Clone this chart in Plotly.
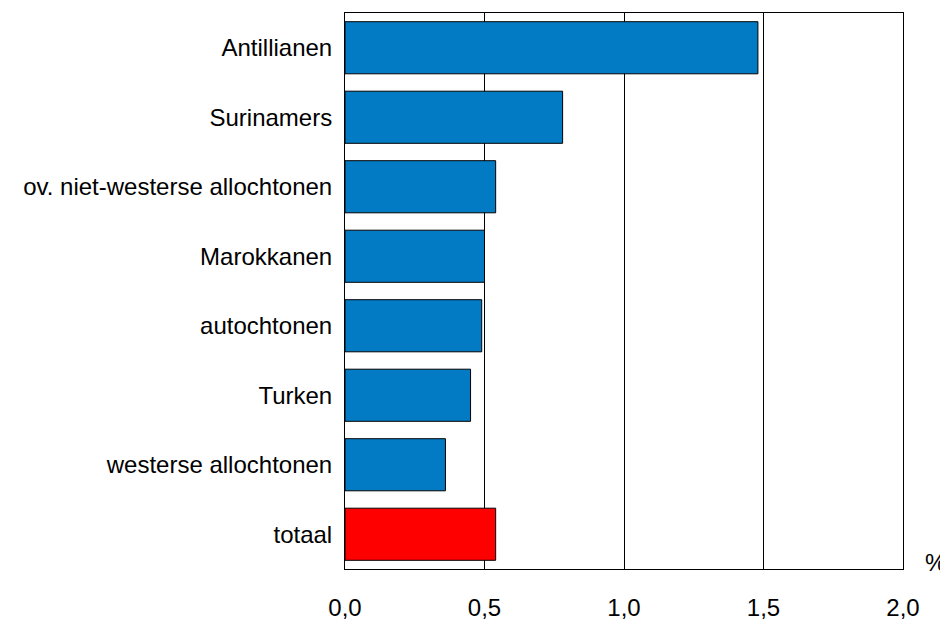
import plotly.graph_objects as go

categories = ["Antillianen", "Surinamers", "ov. niet-westerse allochtonen", "Marokkanen",
              "autochtonen", "Turken", "westerse allochtonen", "totaal"]
values = [1.48, 0.78, 0.54, 0.50, 0.49, 0.45, 0.36, 0.54]
colors = ["#027BC4"] * 7 + ["#FF0000"]
x_ticks = [0, 0.5, 1.0, 1.5, 2.0]

fig = go.Figure(go.Bar(
    x=values, y=categories, orientation="h",
    marker=dict(color=colors, line=dict(color="black", width=1)),
    hoverinfo="skip",
))

font = dict(family="Liberation Sans, Arial, sans-serif", size=24, color="black")

fig.update_layout(
    width=940, height=617,
    margin=dict(l=337, r=45, t=4, b=52),
    paper_bgcolor="white", plot_bgcolor="white",
    separators=",.",
    bargap=0.25,
    showlegend=False,
    font=font,
    xaxis=dict(range=[0, 2], tickvals=x_ticks, tickformat=".1f",
               showgrid=True, gridcolor="black", gridwidth=1,
               showline=True, linecolor="black", linewidth=1, mirror=True,
               zeroline=False, ticks="", ticklabelstandoff=17, fixedrange=True),
    yaxis=dict(autorange="reversed", showgrid=False,
               showline=True, linecolor="black", linewidth=1, mirror=True,
               ticks="", ticklabelstandoff=7, fixedrange=True),
    annotations=[dict(text="%", xref="paper", yref="paper", x=1.036, y=0,
                      xanchor="left", yanchor="middle", yshift=7,
                      showarrow=False, font=font)],
)

fig.write_html("out.html")
